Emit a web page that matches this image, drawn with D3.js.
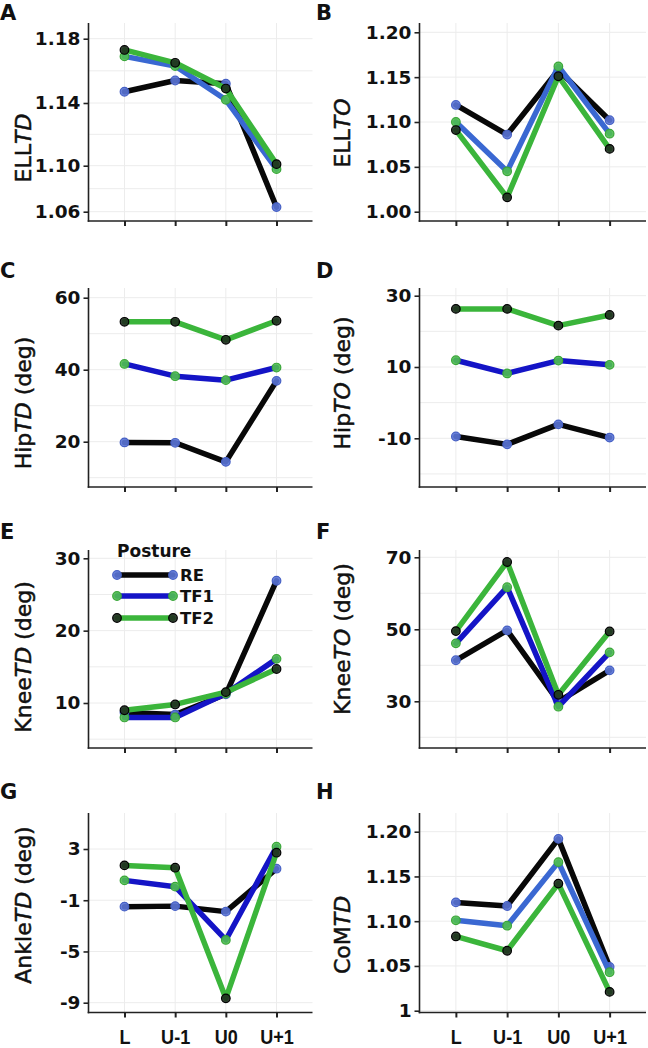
<!DOCTYPE html>
<html>
<head>
<meta charset="utf-8">
<script src="https://cdn.jsdelivr.net/npm/d3@7"></script>
<style>
  body { margin: 0; background: #fff; }
  svg { display: block; }
</style>
</head>
<body>
<svg id="fig" width="648" height="1048"></svg>
<script>
// gait measures at the lead (L) and unloaded steps (U-1, U0, U+1)
const categories = ["L", "U-1", "U0", "U+1"];
const postures = ["RE", "TF1", "TF2"];

// each panel: rows are RE, TF1, TF2
const ellTD   = [[1.147, 1.154, 1.152, 1.064], [1.169, 1.163, 1.142, 1.097], [1.173, 1.165, 1.149, 1.101]];
const ellTO   = [[1.119, 1.086, 1.158, 1.102], [1.100, 1.045, 1.162, 1.087], [1.091, 1.016, 1.151, 1.070]];
const hipTD   = [[19.8, 19.7, 14.4, 36.9], [41.6, 38.2, 37.1, 40.6], [53.3, 53.3, 48.3, 53.6]];
const hipTO   = [[-9.5, -11.7, -6.1, -9.8], [11.9, 8.2, 11.8, 10.6], [26.3, 26.3, 21.6, 24.6]];
const kneeTD  = [[8.7, 8.4, 11.2, 26.9], [8.0, 8.0, 11.3, 16.1], [9.0, 9.8, 11.5, 14.7]];
const kneeTO  = [[41.4, 49.7, 29.9, 38.6], [46.1, 61.7, 28.5, 43.6], [49.5, 68.7, 31.8, 49.4]];
const ankleTD = [[-1.50, -1.46, -1.89, 1.46], [0.55, 0.06, -4.10, 3.18], [1.72, 1.54, -8.66, 2.71]];
const comTD   = [[1.121, 1.117, 1.192, 1.049], [1.101, 1.095, 1.166, 1.043], [1.083, 1.067, 1.142, 1.021]];

// tick labels
const ticksA = [1.06, 1.10, 1.14, 1.18];
const ticksB = [1.00, 1.05, 1.10, 1.15, 1.20];
const ticksC = [20, 40, 60];
const ticksD = [-10, 10, 30];
const ticksE = [10, 20, 30];
const ticksF = [30, 50, 70];
const ticksG = [-9, -5, -1, 3];
const ticksH = [1.00, 1.05, 1.10, 1.15, 1.20];

// layout
const cols = [
  { x0: 88.5, x1: 312.5, titleX: 23, letterX: 0 },
  { x0: 419.5, x1: 646, titleX: 342, letterX: 316 }
];
const rows = [
  { top: 23, bottom: 221, letterY: 20 },
  { top: 288, bottom: 487, letterY: 278 },
  { top: 550, bottom: 748, letterY: 539 },
  { top: 813, bottom: 1012.5, letterY: 799 }
];

const blueLight = "#3a68d2", blueDeep = "#1414c6";
const f2 = d3.format(".2f");
const fi = d => String(d);   // plain hyphen for negatives, as in the figure

const panels = [
  { letter: "A", col: 0, row: 0, data: ellTD, ticks: ticksA, anchors: ticksA, pos: [211.7, 165.7, 103, 38.7],
    grid: [1.08, 1.12, 1.16], fmt: f2, title: ["ELL", "TD", ""], titleY: 148, blue: blueLight },
  { letter: "B", col: 1, row: 0, data: ellTO, ticks: ticksB, anchors: [1.00, 1.20], pos: [211.7, 32.3],
    grid: [], fmt: f2, title: ["ELL", "TO", ""], titleY: 133, blue: blueLight },
  { letter: "C", col: 0, row: 1, data: hipTD, ticks: ticksC, anchors: [20, 60], pos: [441.7, 297.7],
    grid: [10, 30, 50], fmt: fi, title: ["Hip", "TD", " (deg)"], titleY: 403, blue: blueDeep },
  { letter: "D", col: 1, row: 1, data: hipTO, ticks: ticksD, anchors: [-10, 30], pos: [438.3, 295.7],
    grid: [-20, 0, 20], fmt: fi, title: ["Hip", "TO", " (deg)"], titleY: 383, blue: blueDeep },
  { letter: "E", col: 0, row: 2, data: kneeTD, ticks: ticksE, anchors: [10, 30], pos: [703, 558.3],
    grid: [5, 15, 25], fmt: fi, title: ["Knee", "TD", " (deg)"], titleY: 657, blue: blueDeep, legend: true },
  { letter: "F", col: 1, row: 2, data: kneeTO, ticks: ticksF, anchors: [30, 70], pos: [701.3, 557.3],
    grid: [20, 40, 60], fmt: fi, title: ["Knee", "TO", " (deg)"], titleY: 639, blue: blueDeep },
  { letter: "G", col: 0, row: 3, data: ankleTD, ticks: ticksG, anchors: [-9, 3], pos: [1002.7, 849],
    grid: [], fmt: fi, title: ["Ankle", "TD", " (deg)"], titleY: 905, blue: blueDeep, xLabels: true },
  { letter: "H", col: 1, row: 3, data: comTD, ticks: ticksH, anchors: [1.00, 1.20], pos: [1010.7, 831.7],
    grid: [], fmt: d => d === 1 ? "1" : f2(d), title: ["CoM", "TD", ""], titleY: 935, blue: blueLight, xLabels: true }
];

const lineColor = p => [ "#080808", p.blue, "#3bb53b" ];
const ptFill = ["#5b75d8", "#4fbf4f", "#1f2e1f"];
const ptStroke = ["#4660c4", "#3aa63a", "#000000"];

const svg = d3.select("#fig");

panels.forEach(p => {
  const c = cols[p.col], r = rows[p.row];
  const g = svg.append("g");

  const x = d3.scalePoint().domain(categories).range([c.x0, c.x1]).padding(0.71);
  const y = d3.scaleLinear().domain(p.anchors).range(p.pos);

  // grid
  const gridVals = p.ticks.concat(p.grid);
  g.append("g").selectAll("line").data(gridVals).join("line")
    .attr("x1", c.x0).attr("x2", c.x1)
    .attr("y1", d => y(d)).attr("y2", d => y(d))
    .attr("stroke", "#ececec").attr("stroke-width", 1);
  g.append("g").selectAll("line").data(categories).join("line")
    .attr("x1", d => x(d)).attr("x2", d => x(d))
    .attr("y1", r.top).attr("y2", r.bottom)
    .attr("stroke", "#ececec").attr("stroke-width", 1);

  // axes
  const yAxis = g.append("g").attr("transform", `translate(${c.x0},0)`)
    .call(d3.axisLeft(y).tickValues(p.ticks).tickFormat(p.fmt).tickSize(5).tickPadding(3));
  yAxis.select(".domain").remove();
  yAxis.selectAll(".tick line").attr("stroke", "#222").attr("stroke-width", 1.6);
  yAxis.selectAll(".tick text")
    .attr("font-family", "DejaVu Sans").attr("font-weight", "bold").attr("font-size", 18.5).attr("fill", "#111");

  const xAxis = g.append("g").attr("transform", `translate(0,${r.bottom})`)
    .call(d3.axisBottom(x).tickSize(5).tickPadding(12).tickFormat(p.xLabels ? d => d : ""));
  xAxis.select(".domain").remove();
  xAxis.selectAll(".tick line").attr("stroke", "#222").attr("stroke-width", 2);
  xAxis.selectAll(".tick text")
    .attr("font-family", "Liberation Sans").attr("font-weight", "bold").attr("font-size", 21).attr("fill", "#111")
    .attr("transform", "scale(0.86,1)");

  g.append("line").attr("x1", c.x0).attr("x2", c.x0).attr("y1", r.top).attr("y2", r.bottom + 0.8)
    .attr("stroke", "#222").attr("stroke-width", 1.6);
  g.append("line").attr("x1", c.x0 - 0.8).attr("x2", c.x1).attr("y1", r.bottom).attr("y2", r.bottom)
    .attr("stroke", "#222").attr("stroke-width", 1.6);

  // series
  const line = d3.line().x((d, i) => x(categories[i])).y(d => y(d));
  const colors = lineColor(p);
  p.data.forEach((vals, k) => {
    g.append("path").datum(vals).attr("d", line)
      .attr("fill", "none").attr("stroke", colors[k]).attr("stroke-width", 5.5)
      .attr("stroke-linejoin", "round").attr("stroke-linecap", "round");
    g.append("g").selectAll("circle").data(vals).join("circle")
      .attr("cx", (d, i) => x(categories[i])).attr("cy", d => y(d)).attr("r", 4.3)
      .attr("fill", ptFill[k]).attr("stroke", ptStroke[k]).attr("stroke-width", 1.2)
      .attr("fill-opacity", 0.9);
  });

  // y title
  const t = g.append("text")
    .attr("transform", `translate(${c.titleX},${p.titleY}) rotate(-90)`)
    .attr("text-anchor", "middle").attr("dominant-baseline", "central")
    .attr("font-family", "DejaVu Sans").attr("font-size", 22).attr("fill", "#111")
    .attr("stroke", "#111").attr("stroke-width", 0.5);
  t.append("tspan").text(p.title[0]);
  t.append("tspan").attr("font-style", "italic").text(p.title[1]);
  if (p.title[2]) t.append("tspan").text(p.title[2]);

  // panel letter
  svg.append("text").attr("x", c.letterX).attr("y", r.letterY)
    .attr("font-family", "DejaVu Sans").attr("font-weight", "bold").attr("font-size", 21).attr("fill", "#111")
    .text(p.letter);

  if (p.legend) {
    const lx0 = 117, lx1 = 173, ly = [575, 596, 618];
    const lg = g.append("g");
    lg.append("text").attr("x", lx0).attr("y", 557)
      .attr("font-family", "DejaVu Sans").attr("font-weight", "bold").attr("font-size", 17).attr("fill", "#111")
      .text("Posture");
    postures.forEach((name, k) => {
      lg.append("line").attr("x1", lx0).attr("x2", lx1).attr("y1", ly[k]).attr("y2", ly[k])
        .attr("stroke", colors[k]).attr("stroke-width", 5.5).attr("stroke-linecap", "round");
      [lx0, lx1].forEach(px => lg.append("circle").attr("cx", px).attr("cy", ly[k]).attr("r", 4.3)
        .attr("fill", ptFill[k]).attr("stroke", ptStroke[k]).attr("stroke-width", 1.2).attr("fill-opacity", 0.9));
      lg.append("text").attr("x", 180).attr("y", ly[k]).attr("dominant-baseline", "central")
        .attr("font-family", "DejaVu Sans").attr("font-weight", "bold").attr("font-size", 16.5).attr("fill", "#111")
        .text(name);
    });
  }
});
</script>
</body>
</html>
